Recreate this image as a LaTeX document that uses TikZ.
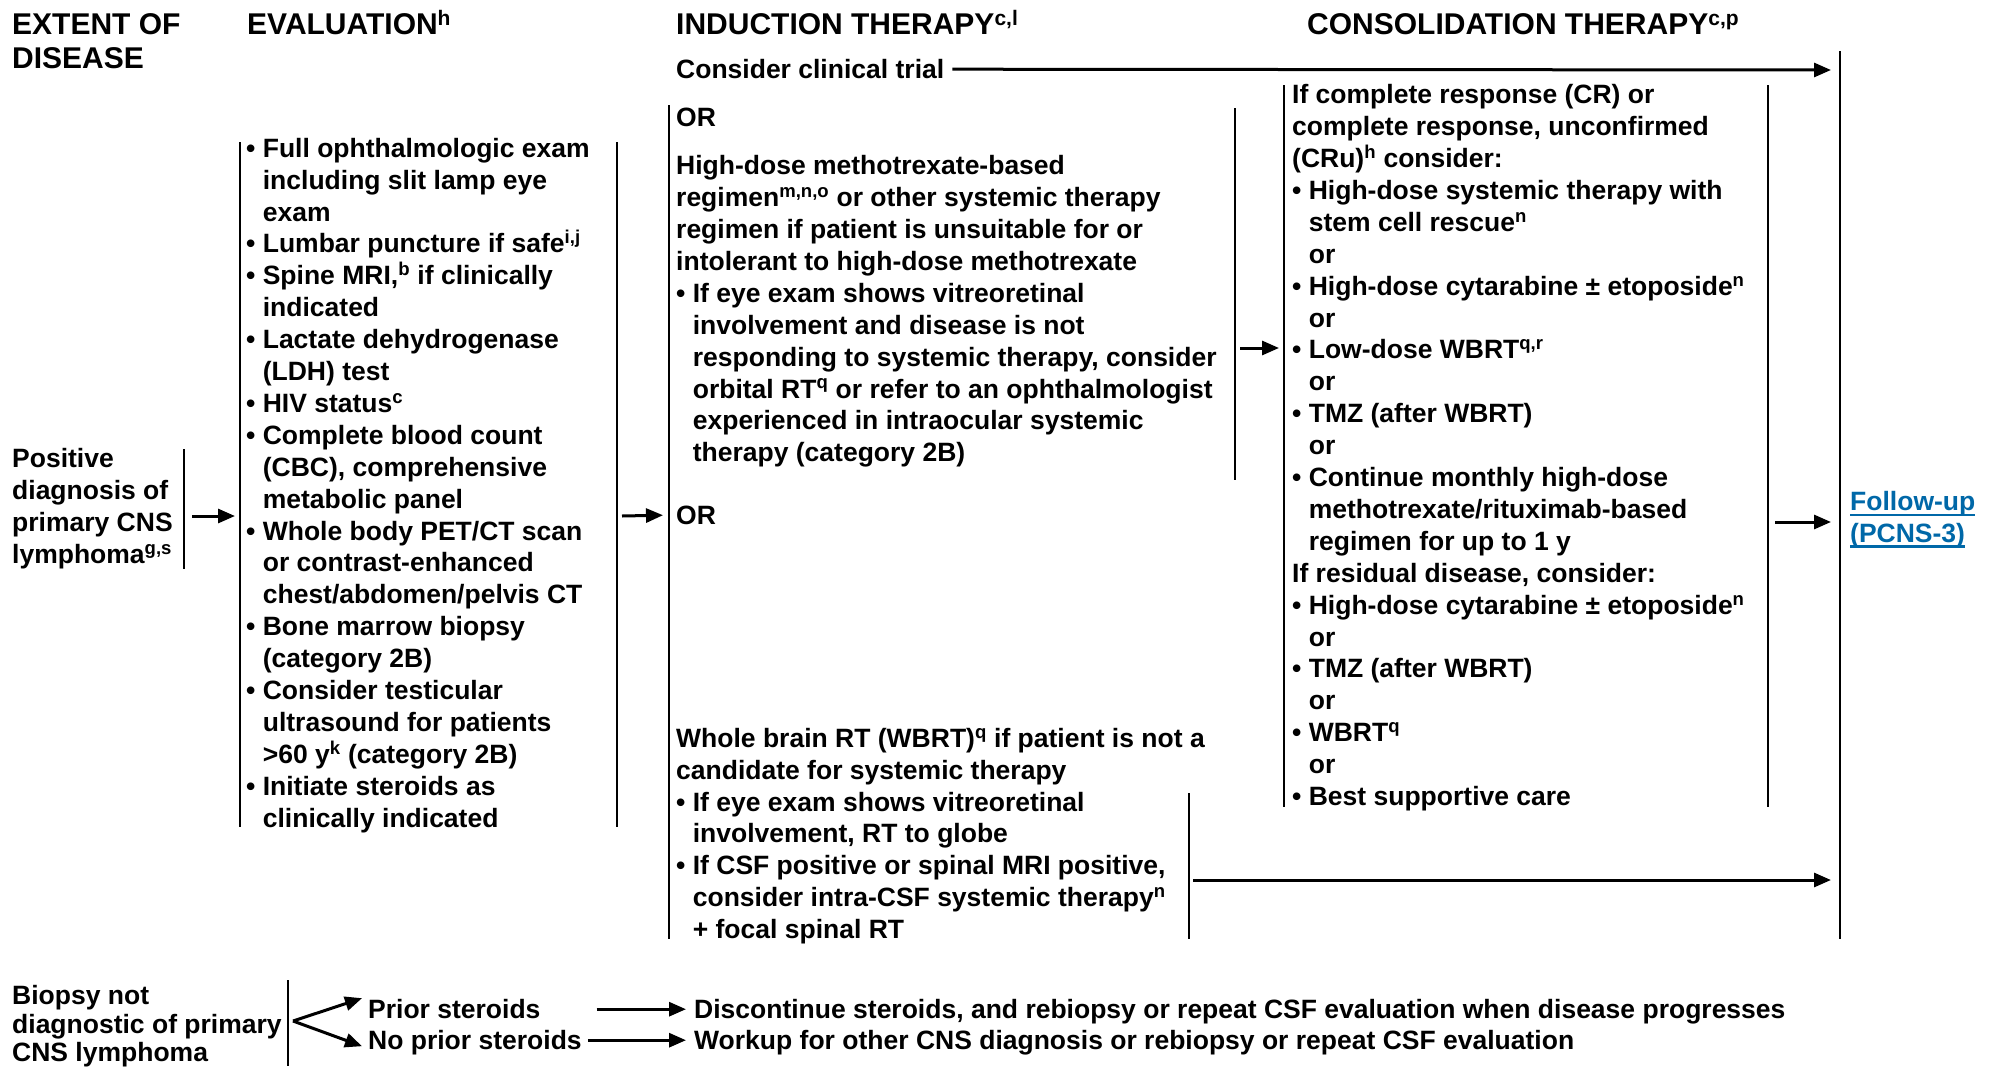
\documentclass[tikz,border=0pt]{standalone}
\usepackage{fontspec}
\setmainfont{Liberation Sans}
\usetikzlibrary{arrows.meta}

\definecolor{linkblue}{RGB}{0,104,168}
\newcommand{\txtfont}{\fontsize{26.5}{31.9}\selectfont\bfseries}
\newcommand{\hdfont}{\fontsize{30}{34}\selectfont\bfseries}
\newcommand{\fst}{\rule[-6pt]{0pt}{31pt}}
\newcommand{\hst}{\rule[-6pt]{0pt}{34pt}}
\newcommand{\bul}{•\ }
\newcommand{\nbul}{\hphantom{•\ }}
\newcommand{\lnk}[1]{\sbox0{#1}\rlap{\rule[-5pt]{\wd0}{2.2pt}}\usebox0}

\begin{document}
\begin{tikzpicture}[x=1pt,y=-1pt,
  txt/.style={anchor=north west,inner sep=0pt,align=left,font=\txtfont},
  hd/.style={anchor=north west,inner sep=0pt,align=left,font=\hdfont},
  bar/.style={line width=2.4pt},
  arr/.style={line width=3pt,-{Triangle[length=17pt,width=14pt]}}]
  \useasboundingbox (0,0) rectangle (1990,1066);

  % Kopfzeile
  \node[hd] (hExt) at (12,6) {\hst EXTENT OF\\DISEASE};
  \node[hd] (hEval) at (247,6) {\hst EVALUATION\textsuperscript{h}};
  \node[hd] (hInd) at (676,6) {\hst INDUCTION THERAPY\textsuperscript{c,l}};
  \node[hd] (hCons) at (1307,6) {\hst CONSOLIDATION THERAPY\textsuperscript{c,p}};

  % Diagnose und Evaluation
  \node[txt] (diag) at (12,442.5) {\fst Positive\\diagnosis of\\primary CNS\\lymphoma\textsuperscript{g,s}};
  \draw[bar] (184,449) -- (184,569);

  \node[txt] (eval) at (246,132) {\fst\bul Full ophthalmologic exam\\
    \nbul including slit lamp eye\\
    \nbul exam\\
    \bul Lumbar puncture if safe\textsuperscript{i,j}\\
    \bul Spine MRI,\textsuperscript{b} if clinically\\
    \nbul indicated\\
    \bul Lactate dehydrogenase\\
    \nbul (LDH) test\\
    \bul HIV status\textsuperscript{c}\\
    \bul Complete blood count\\
    \nbul (CBC), comprehensive\\
    \nbul metabolic panel\\
    \bul Whole body PET/CT scan\\
    \nbul or contrast-enhanced\\
    \nbul chest/abdomen/pelvis CT\\
    \bul Bone marrow biopsy\\
    \nbul (category 2B)\\
    \bul Consider testicular\\
    \nbul ultrasound for patients\\
    \nbul >60 y\textsuperscript{k} (category 2B)\\
    \bul Initiate steroids as\\
    \nbul clinically indicated};
  \draw[bar] (240,142) -- (240,827);
  \draw[bar] (617,142) -- (617,827);

  % Induktion
  \node[txt] (ct) at (676,53.5) {\fst Consider clinical trial};
  \node[txt] (or1) at (676,101.5) {\fst OR};
  \node[txt] (hdmtx) at (676,149.5) {\fst High-dose methotrexate-based\\
    regimen\textsuperscript{m,n,o} or other systemic therapy\\
    regimen if patient is unsuitable for or\\
    intolerant to high-dose methotrexate\\
    \bul If eye exam shows vitreoretinal\\
    \nbul involvement and disease is not\\
    \nbul responding to systemic therapy, consider\\
    \nbul orbital RT\textsuperscript{q} or refer to an ophthalmologist\\
    \nbul experienced in intraocular systemic\\
    \nbul therapy (category 2B)};
  \node[txt] (or2) at (676,499.5) {\fst OR};
  \node[txt] (wbrt) at (676,722) {\fst Whole brain RT (WBRT)\textsuperscript{q} if patient is not a\\
    candidate for systemic therapy\\
    \bul If eye exam shows vitreoretinal\\
    \nbul involvement, RT to globe\\
    \bul If CSF positive or spinal MRI positive,\\
    \nbul consider intra-CSF systemic therapy\textsuperscript{n}\\
    \nbul + focal spinal RT};
  \draw[bar] (669,105) -- (669,939);
  \draw[bar] (1235,108) -- (1235,480);
  \draw[bar] (1189,793) -- (1189,939);

  % Konsolidierung
  \node[txt] (cons) at (1292,78.5) {\fst If complete response (CR) or\\
    complete response, unconfirmed\\
    (CRu)\textsuperscript{h} consider:\\
    \bul High-dose systemic therapy with\\
    \nbul stem cell rescue\textsuperscript{n}\\
    \nbul or\\
    \bul High-dose cytarabine ± etoposide\textsuperscript{n}\\
    \nbul or\\
    \bul Low-dose WBRT\textsuperscript{q,r}\\
    \nbul or\\
    \bul TMZ (after WBRT)\\
    \nbul or\\
    \bul Continue monthly high-dose\\
    \nbul methotrexate/rituximab-based\\
    \nbul regimen for up to 1 y\\
    If residual disease, consider:\\
    \bul High-dose cytarabine ± etoposide\textsuperscript{n}\\
    \nbul or\\
    \bul TMZ (after WBRT)\\
    \nbul or\\
    \bul WBRT\textsuperscript{q}\\
    \nbul or\\
    \bul Best supportive care};
  \draw[bar] (1284,85) -- (1284,807);
  \draw[bar] (1768,85) -- (1768,807);
  \draw[bar] (1840,51) -- (1840,939);

  \node[txt,text=linkblue] (fu) at (1850,485.5) {\fst\lnk{Follow-up}\\\lnk{(PCNS-3)}};

  % Pfeile
  \coordinate (diagOut) at (192,516);
  \coordinate (evalIn) at (235,516);
  \coordinate (evalOut) at (622,516);
  \coordinate (indOut) at (1240,348);
  \coordinate (consIn) at (1279,348);
  \coordinate (consOut) at (1775,522);
  \coordinate (fuIn) at (1831,522);
  \coordinate (ctEnd) at (1831,70);
  \coordinate (wbOut) at (1193,880);
  \coordinate (wbEnd) at (1831,880);
  \draw[arr] (diagOut) -- (evalIn);
  \draw[arr] (evalOut) -- ([xshift=-13pt]or2.west);
  \draw[arr] (indOut) -- (consIn);
  \draw[arr] (consOut) -- (fuIn);
  \draw[arr] ([xshift=8pt]ct.east) -- (ctEnd);
  \draw[arr] (wbOut) -- (wbEnd);

  % Biopsie nicht diagnostisch
  \node[txt,font=\fontsize{26.5}{28.5}\selectfont\bfseries] (biopsy) at (12,979.5)
    {\rule[-4pt]{0pt}{29pt}Biopsy not\\diagnostic of primary\\CNS lymphoma};
  \draw[bar] (288,980) -- (288,1066);
  \node[txt] (prior) at (368,993.5) {\fst Prior steroids};
  \node[txt] (noprior) at (368,1024.5) {\fst No prior steroids};
  \node[txt] (disc) at (694,993.5) {\fst Discontinue steroids, and rebiopsy or repeat CSF evaluation when disease progresses};
  \node[txt] (work) at (694,1024.5) {\fst Workup for other CNS diagnosis or rebiopsy or repeat CSF evaluation};
  \coordinate (split) at (293,1021);
  \draw[arr] (split) -- ([xshift=-6pt,yshift=11pt]prior.west);
  \draw[arr] (split) -- ([xshift=-6pt,yshift=-6pt]noprior.west);
  \draw[arr] ([xshift=56pt]prior.east) -- ([xshift=-8pt]disc.west);
  \draw[arr] ([xshift=6pt]noprior.east) -- ([xshift=-8pt]work.west);
\end{tikzpicture}
\end{document}
